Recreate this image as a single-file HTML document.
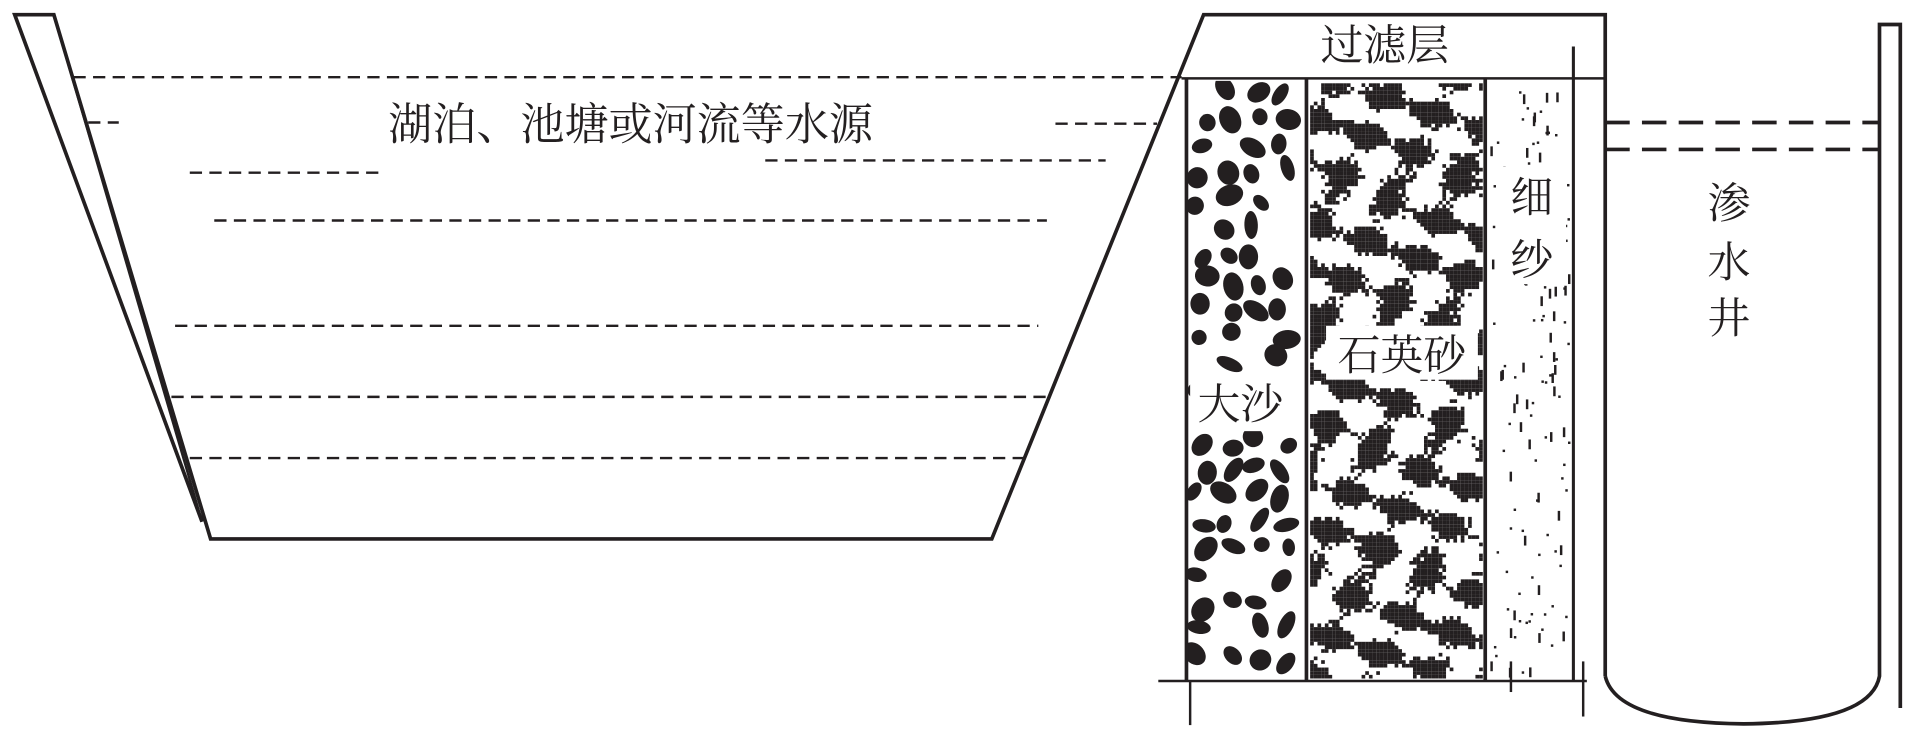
<!DOCTYPE html>
<html><head><meta charset="utf-8"><style>
html,body{margin:0;padding:0;background:#fff;}
svg{display:block;}
text{font-family:"Liberation Serif","Noto Serif CJK SC","Noto Sans CJK SC",serif;fill:#231f20;}
</style></head><body>
<svg id="s" width="1915" height="730" viewBox="0 0 1564 596" preserveAspectRatio="none" xmlns="http://www.w3.org/2000/svg">
<defs><clipPath id="cp"><rect x="970" y="66" width="314" height="488"/></clipPath></defs>
<g id="blobs" clip-path="url(#cp)"></g>
<g fill="none" stroke="#231f20" stroke-width="3">
  <polyline points="165,426 12,12 44,12 172,440 810,440 983,12 1311,12 1311,552"/>
  <line x1="44" y1="12" x2="165" y2="426" stroke-width="2"/>
  <line x1="965" y1="64" x2="1311" y2="64" stroke-width="2"/>
  <line x1="969" y1="64" x2="969" y2="556"/>
  <line x1="1067" y1="64" x2="1067" y2="556"/>
  <line x1="1213" y1="64" x2="1213" y2="556"/>
  <line x1="1285" y1="38" x2="1285" y2="556" stroke-width="2.5"/>
  <line x1="946" y1="556" x2="1296" y2="556" stroke-width="2"/>
  <line x1="972" y1="556" x2="972" y2="592" stroke-width="2"/>
  <line x1="1234" y1="540" x2="1234" y2="565" stroke-width="2"/>
  <line x1="1293" y1="540" x2="1293" y2="585" stroke-width="2"/>
  <path d="M1311,552 Q1320,590 1424,591 Q1528,590 1535,552 L1535,20 L1552,20 L1552,578"/>
</g>
<g fill="none" stroke="#231f20" stroke-width="2" stroke-dasharray="10,6">
  <line x1="60" y1="63" x2="965" y2="63"/>
  <line x1="72" y1="100" x2="97" y2="100"/>
  <line x1="862" y1="101" x2="945" y2="101"/>
  <line x1="625" y1="131" x2="903" y2="131"/>
  <line x1="155" y1="141" x2="310" y2="141"/>
  <line x1="175" y1="180" x2="855" y2="180"/>
  <line x1="143" y1="266" x2="848" y2="266"/>
  <line x1="140" y1="324" x2="858" y2="324"/>
  <line x1="155" y1="374" x2="837" y2="374"/>
</g>
<g fill="none" stroke="#231f20" stroke-width="3" stroke-dasharray="20,10">
  <line x1="1311" y1="100" x2="1535" y2="100"/>
  <line x1="1311" y1="122" x2="1535" y2="122"/>
</g>
<rect x="972" y="308" width="84" height="44" fill="#fff"/>
<rect x="1083" y="266" width="124" height="44" fill="#fff"/>
<rect x="1223" y="136" width="56" height="96" fill="#fff"/>
<text x="515" y="114" font-size="36" text-anchor="middle">湖泊、池塘或河流等水源</text>
<text x="1131" y="49" font-size="35" text-anchor="middle">过滤层</text>
<text x="1013" y="342" font-size="35" text-anchor="middle">大沙</text>
<text x="1145" y="302" font-size="35" text-anchor="middle">石英砂</text>
<text x="1251" y="173" font-size="35" text-anchor="middle">细</text>
<text x="1251" y="224" font-size="35" text-anchor="middle">纱</text>
<text x="1412" y="178" font-size="35" text-anchor="middle">渗</text>
<text x="1412" y="226" font-size="35" text-anchor="middle">水</text>
<text x="1412" y="272" font-size="35" text-anchor="middle">井</text>
</svg>
<script>
(function(){
var seed=7;function r(){seed=(seed*16807)%2147483647;return seed/2147483647;}
var g=document.getElementById('blobs'),h='';
for(var y=70;y<545;y+=22){for(var x=975;x<1060;x+=22){
 if(r()<0.1)continue;
 var cx=x+r()*12,cy=y+r()*10,rx=6+r()*6,ry=5+r()*4;
 if(cx+rx>1064)cx=1064-rx; h+='<ellipse cx="'+cx.toFixed(1)+'" cy="'+cy.toFixed(1)+'" rx="'+rx.toFixed(1)+'" ry="'+ry.toFixed(1)+'" transform="rotate('+(r()*180).toFixed(0)+' '+cx.toFixed(1)+' '+cy.toFixed(1)+')" fill="#231f20"/>';}}
for(var y=68;y<552;y+=3){for(var x=1070;x<1210;x+=3){
 var v=Math.sin(x*0.13+y*0.07)+Math.cos(y*0.15-x*0.06)+Math.sin(x*0.05-y*0.21)*0.6+r()*1.4-0.5;
 if(v>0.35)h+='<rect x="'+x+'" y="'+y+'" width="3" height="3" fill="#231f20"/>';}}
for(var i=0;i<140;i++){var x=1217+r()*64,y=68+r()*484;
 h+='<rect x="'+x.toFixed(1)+'" y="'+y.toFixed(1)+'" width="2" height="'+(r()<0.3?8:2)+'" fill="#231f20"/>';}
g.innerHTML=h;
})();
</script>
</body></html>
